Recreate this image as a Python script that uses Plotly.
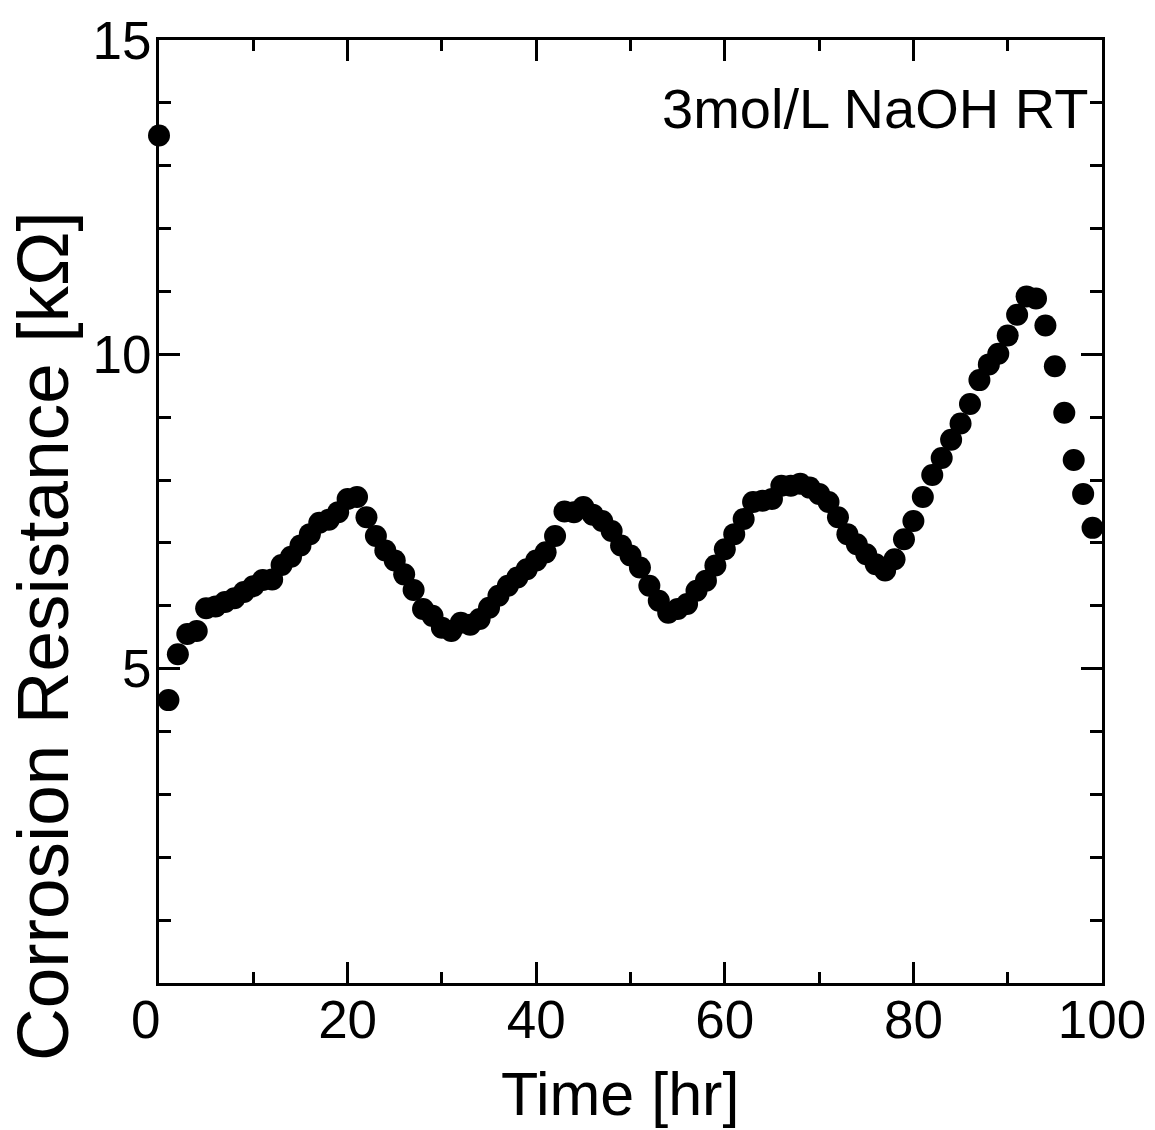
import plotly.graph_objects as go

time_hr = list(range(0, 100))
resistance_kohm = [
    13.48, 4.50, 5.23, 5.55, 5.60, 5.96, 5.99, 6.06, 6.12, 6.22,
    6.31, 6.41, 6.42, 6.65, 6.78, 6.96, 7.14, 7.32, 7.37, 7.49,
    7.70, 7.73, 7.41, 7.11, 6.88, 6.72, 6.50, 6.25, 5.95, 5.84,
    5.65, 5.60, 5.73, 5.70, 5.79, 5.97, 6.16, 6.32, 6.45, 6.58,
    6.72, 6.85, 7.11, 7.50, 7.49, 7.57, 7.45, 7.35, 7.19, 6.96,
    6.80, 6.61, 6.32, 6.08, 5.89, 5.95, 6.03, 6.24, 6.40, 6.64,
    6.90, 7.14, 7.38, 7.65, 7.67, 7.70, 7.91, 7.91, 7.94, 7.88,
    7.78, 7.65, 7.41, 7.14, 6.98, 6.82, 6.66, 6.56, 6.74, 7.06,
    7.35, 7.73, 8.08, 8.35, 8.64, 8.90, 9.21, 9.59, 9.84, 10.01,
    10.30, 10.63, 10.92, 10.89, 10.46, 9.81, 9.07, 8.32, 7.78, 7.24,
]
x_tickvals = [0, 20, 40, 60, 80, 100]
x_ticktext = ["0\u2002", "20", "40", "60", "80", "100"]
y_tickvals = [5, 10, 15]
x_title = "Time [hr]"
y_title = "Corrosion Resistance [kΩ]"
label_text = "3mol/L NaOH RT"

FONT = "Liberation Sans, Arial, Helvetica, sans-serif"

fig = go.Figure()
fig.add_trace(go.Scatter(
    x=time_hr, y=resistance_kohm, mode="markers",
    marker=dict(size=22, color="black"),
    cliponaxis=False, showlegend=False,
))

axis_common = dict(
    showline=True, linecolor="black", linewidth=2.8, mirror="ticks",
    ticks="inside", tickcolor="black", tickwidth=2.8, ticklen=21,
    showgrid=False, zeroline=False, automargin=False,
    tickfont=dict(family=FONT, size=53, color="black"),
)

fig.update_xaxes(
    range=[0, 100], tickvals=x_tickvals, ticktext=x_ticktext,
    minor=dict(dtick=10, ticks="inside", ticklen=11, tickwidth=2.8, tickcolor="black", showgrid=False),
    ticklabelstandoff=-12,
    **axis_common,
)
fig.update_yaxes(
    range=[0, 15], tickvals=y_tickvals,
    minor=dict(dtick=1, ticks="inside", ticklen=12, tickwidth=2.8, tickcolor="black", showgrid=False),
    ticklabelstandoff=-6,
    **axis_common,
)

# axis titles placed as annotations (pixel-accurate positioning)
fig.add_annotation(
    x=(620 - 159) / 943, y=(983 - 1094) / 943, xref="paper", yref="paper",
    text=x_title, showarrow=False, xanchor="center", yanchor="middle", borderpad=0,
    font=dict(family=FONT, size=61, color="black"),
)
fig.add_annotation(
    x=(42 - 159) / 943, y=(983 - 636) / 943, xref="paper", yref="paper",
    text=y_title, showarrow=False, xanchor="center", yanchor="middle", textangle=-90,
    font=dict(family=FONT, size=73, color="black"),
)

fig.add_annotation(
    x=(1090 - 159) / 943, y=0.927, xref="paper", yref="paper",
    text=label_text, showarrow=False, xanchor="right", yanchor="middle",
    font=dict(family=FONT, size=56, color="black"),
)

fig.update_layout(
    width=1155, height=1130,
    margin=dict(l=159, r=53, t=40, b=147),
    paper_bgcolor="white", plot_bgcolor="white",
)

fig.write_html(
    "out.html",
    config={"displayModeBar": False},
    post_script="document.body.style.margin='0';",
)
